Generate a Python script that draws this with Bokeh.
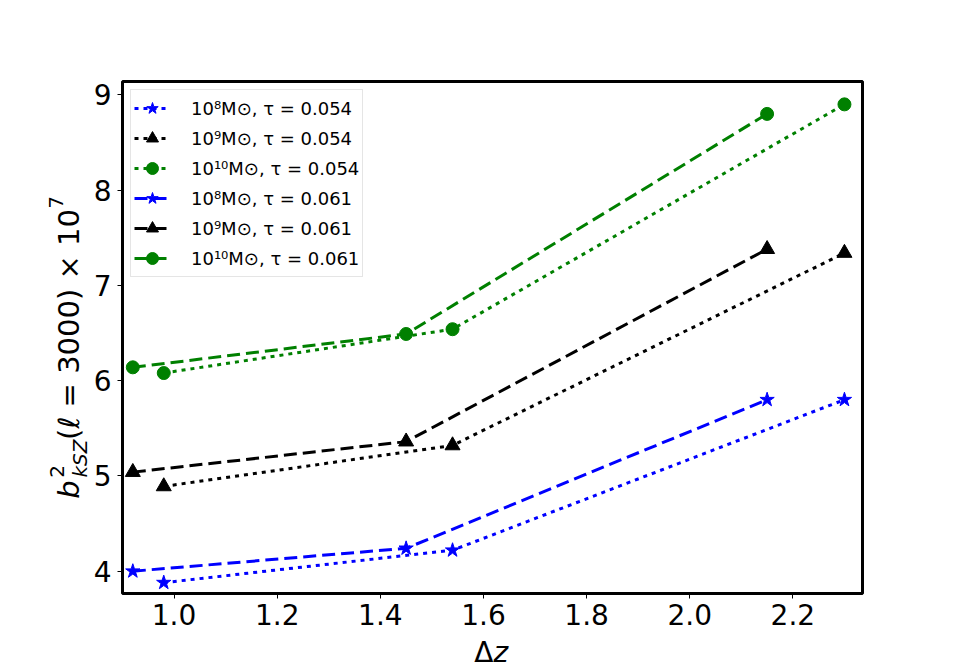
import math
from bokeh.plotting import figure
from bokeh.layouts import column, row
from bokeh.models import Range1d, FixedTicker, PrintfTickFormatter
from bokeh.core.properties import value
from bokeh.embed import file_html
from bokeh.resources import INLINE

# ---- data ----
dz_054 = [0.98, 1.54, 2.30]
dz_061 = [0.92, 1.45, 2.15]
b2_1e8_054 = [3.88, 4.22, 5.80]
b2_1e9_054 = [4.89, 5.32, 7.34]
b2_1e10_054 = [6.08, 6.54, 8.90]
b2_1e8_061 = [4.00, 4.24, 5.80]
b2_1e9_061 = [5.04, 5.36, 7.38]
b2_1e10_061 = [6.14, 6.49, 8.80]
x_ticks = [1.0, 1.2, 1.4, 1.6, 1.8, 2.0, 2.2]
y_ticks = [4, 5, 6, 7, 8, 9]
labels = ["10⁸M⊙, τ = 0.054", "10⁹M⊙, τ = 0.054", "10¹⁰M⊙, τ = 0.054",
          "10⁸M⊙, τ = 0.061", "10⁹M⊙, τ = 0.061", "10¹⁰M⊙, τ = 0.061"]

X0, X1 = 0.9, 2.335
Y0, Y1 = 3.766, 9.14

TOTAL_W = 945
YL_W = 90            # strip holding the y-axis title
MAIN_H = 636
XL_H = 33            # strip holding the x-axis title
MAIN_W = TOTAL_W - YL_W
ML, MR, MT, MB = 30, 83, 81, 43

p = figure(width=MAIN_W, height=MAIN_H, output_backend="svg", toolbar_location=None,
           x_range=Range1d(X0, X1), y_range=Range1d(Y0, Y1),
           min_border_left=ML, min_border_right=MR, min_border_top=MT, min_border_bottom=MB)
p.grid.visible = False
p.outline_line_color = "black"
p.outline_line_width = 3
p.outline_line_alpha = 1.0
p.background_fill_color = "white"
p.border_fill_color = "white"

for ax in (p.xaxis, p.yaxis):
    ax.axis_line_color = None
    ax.major_tick_out = 5
    ax.major_tick_in = 0
    ax.minor_tick_line_color = None
    ax.major_tick_line_color = "black"
    ax.major_tick_line_width = 1
    ax.major_label_text_font = "DejaVu Sans"
    ax.major_label_text_font_size = "28px"
    ax.major_label_text_color = "black"
p.xaxis.ticker = FixedTicker(ticks=x_ticks)
p.yaxis.ticker = FixedTicker(ticks=y_ticks)
p.xaxis.formatter = PrintfTickFormatter(format="%.1f")
p.yaxis.formatter = PrintfTickFormatter(format="%d")
p.xaxis.major_label_standoff = 5
p.yaxis.major_label_standoff = 6

series = [
    (dz_054, b2_1e8_054, "#0000ff", "star", 15, "4 5", labels[0]),
    (dz_054, b2_1e9_054, "black", "triangle", 15, "4 5", labels[1]),
    (dz_054, b2_1e10_054, "#008000", "circle", 13, "4 5", labels[2]),
    (dz_061, b2_1e8_061, "#0000ff", "star", 15, "13 6", labels[3]),
    (dz_061, b2_1e9_061, "black", "triangle", 15, "13 6", labels[4]),
    (dz_061, b2_1e10_061, "#008000", "circle", 13, "13 6", labels[5]),
]
for xs, ys, col, mk, sz, dash, lab in series:
    p.line(xs, ys, line_color=col, line_width=3, line_dash=dash, legend_label=lab)
    p.scatter(xs, ys, marker=mk, size=sz, fill_color=col, line_color=col, legend_label=lab)

lg = p.legend[0]
lg.location = "top_left"
lg.margin = 8
lg.padding = 3
lg.spacing = 0
lg.glyph_width = 36
lg.glyph_height = 30
lg.label_height = 30
lg.label_standoff = 21
lg.label_text_font = "DejaVu Sans"
lg.label_text_font_size = "18px"
lg.label_text_color = "black"
lg.border_line_color = "#cccccc"
lg.border_line_width = 1
lg.background_fill_alpha = 0.8


def text_strip(w, h, top=0, bottom=0):
    # frame spans rows top..h-bottom; data y = pixels from the strip's bottom
    f = figure(width=w, height=h, output_backend="svg", toolbar_location=None,
               x_range=Range1d(0, w), y_range=Range1d(bottom, h - top),
               x_axis_type=None, y_axis_type=None,
               min_border=0, min_border_left=0, min_border_right=0,
               min_border_top=top, min_border_bottom=bottom)
    f.grid.visible = False
    f.outline_line_color = None
    f.background_fill_color = "white"
    f.border_fill_color = "white"
    return f


def put(f, h, text, cx, cy, size, italic=False, angle=0.0, align="center"):
    # (cx, cy): centre of the text box, in pixels from the strip's top-left
    f.text(x=[cx], y=[h - cy], text=[text], angle=angle,
           text_font=value("DejaVu Sans"), text_font_size=value(size),
           text_font_style="italic" if italic else "normal",
           text_align=align, text_baseline="middle", text_color="black")


# y-axis title: b^2_{kSZ}(ℓ = 3000) × 10^7  (frame aligned with the main plot's frame)
yl = text_strip(YL_W, MAIN_H, top=MT, bottom=MB)
A = math.pi / 2
put(yl, MAIN_H, "b", 68, 489, "29px", italic=True, angle=A)
put(yl, MAIN_H, "2", 56, 471, "20px", angle=A)
put(yl, MAIN_H, "kSZ", 79, 458, "20px", italic=True, angle=A)
put(yl, MAIN_H, "(ℓ = 3000) × 10", 68, 324, "29px", angle=A)
put(yl, MAIN_H, "7", 55, 202, "20px", angle=A)

# x-axis title: Δz
xl = text_strip(TOTAL_W, XL_H)
put(xl, XL_H, "Δ", 493, 16.3, "28px", align="right")
put(xl, XL_H, "z", 493, 16.3, "28px", italic=True, align="left")

layout = column(row(yl, p, spacing=0), xl, spacing=0)
open("out.html", "w").write(file_html(layout, INLINE))
